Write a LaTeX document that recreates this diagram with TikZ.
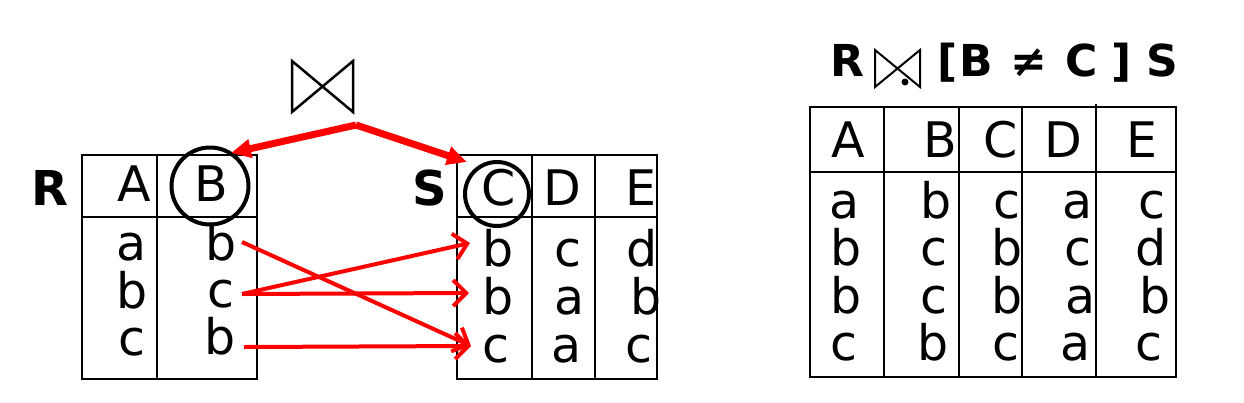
\documentclass[tikz,border=0pt]{standalone}
\usepackage{fontspec}
\setmainfont{DejaVu Sans}
\usetikzlibrary{arrows.meta}
\begin{document}
\begin{tikzpicture}[x=1pt,y=-1pt,
  grid/.style={line width=2.4pt},
  cell/.style={anchor=base,inner sep=0pt,font=\fontsize{49}{56}\selectfont},
  rel/.style={anchor=base,inner sep=0pt,font=\fontsize{48}{56}\selectfont\bfseries},
  ttl/.style={anchor=base,inner sep=0pt,font=\fontsize{44}{50}\selectfont\bfseries},
  ring/.style={draw,line width=4pt},
  bowtie/.style={line width=2.5pt,line join=miter},
  bigarrow/.style={red,line width=7pt,-{Triangle[length=20pt,width=18pt]}},
  match/.style={red,line width=4pt,-{Straight Barb[length=13pt,width=26pt]}}]
\useasboundingbox (0,0) rectangle (1244,402);

% ---------- R table ----------
\node[rel] (Rname) at (50,205) {R};
\draw[grid] (82,155) rectangle (257,379);
\draw[grid] (82,217) -- (257,217);
\draw[grid] (157,155) -- (157,379);
\node[cell] (RhA) at (134,201) {A};
\node[cell] (RhB) at (211,201) {B};
\draw[ring] (210,186) circle[radius=38.5pt];
\node[cell] (Ra1) at (132,260) {a};
\node[cell] (Ra2) at (132,308) {b};
\node[cell] (Ra3) at (132,355) {c};
\node[cell] (Rb1) at (221,260) {b};
\node[cell] (Rb2) at (221,307) {c};
\node[cell] (Rb3) at (220,354) {b};

% ---------- S table ----------
\node[rel] (Sname) at (430,205) {S};
\draw[grid] (457,155) rectangle (657,379);
\draw[grid] (457,217) -- (657,217);
\draw[grid] (532,155) -- (532,379);
\draw[grid] (595,155) -- (595,379);
\node[cell] (ShC) at (499,205) {C};
\node[cell] (ShD) at (562,205) {D};
\node[cell] (ShE) at (641,205) {E};
\draw[ring] (497,194) circle[radius=32pt];
\node[cell] (Sc1) at (498,266) {b};
\node[cell] (Sc2) at (498,314) {b};
\node[cell] (Sc3) at (496,362) {c};
\node[cell] (Sd1) at (568,266) {c};
\node[cell] (Sd2) at (570,314) {a};
\node[cell] (Sd3) at (567,362) {a};
\node[cell] (Se1) at (642,266) {d};
\node[cell] (Se2) at (646,314) {b};
\node[cell] (Se3) at (639,362) {c};

% ---------- join symbol and arrows ----------
\draw[bowtie] (292,61) -- (292,112) -- (353,61) -- (353,112) -- cycle;
\coordinate (apex) at (356,125);
\coordinate (toB) at (231,153);
\coordinate (toC) at (467,162);
\draw[bigarrow] (apex) -- (toB);
\draw[bigarrow] (apex) -- (toC);

\coordinate (r1) at (242,242);
\coordinate (r2) at (242,294);
\coordinate (r3) at (244,347);
\coordinate (s1) at (470,243);
\coordinate (s2) at (469,293);
\coordinate (s3) at (471,346);
\draw[match] (r1) -- (s3);
\draw[match] (r2) -- (s1);
\draw[match] (r2) -- (s2);
\draw[match] (r3) -- (s3);

% ---------- title ----------
\node[ttl] (tR) at (847,76) {R};
\draw[line width=2pt,line join=miter] (875,50) -- (875,87) -- (920,50) -- (920,87) -- cycle;
\fill (905,82) circle[radius=3.5pt];
\node[ttl] (tlb) at (948,76) {[};
\node[ttl] (tB) at (976,76) {B};
\node[ttl] (tne) at (1029,76) {≠};
\node[ttl] (tC) at (1082,76) {C};
\node[ttl] (trb) at (1122,76) {]};
\node[ttl] (tS) at (1162,76) {S};

% ---------- result table ----------
\draw[grid] (810,107) rectangle (1176,377);
\draw[grid] (810,172) -- (1176,172);
\draw[grid] (884,107) -- (884,377);
\draw[grid] (959,107) -- (959,377);
\draw[grid] (1022,107) -- (1022,377);
\draw[grid] (1096,104) -- (1096,377);
\node[cell] (QhA) at (848,157) {A};
\node[cell] (QhB) at (940,157) {B};
\node[cell] (QhC) at (1001,157) {C};
\node[cell] (QhD) at (1063,157) {D};
\node[cell] (QhE) at (1142,157) {E};
% row 1
\node[cell] (Q11) at (845,218) {a};
\node[cell] (Q12) at (936,218) {b};
\node[cell] (Q13) at (1007,218) {c};
\node[cell] (Q14) at (1077,218) {a};
\node[cell] (Q15) at (1152,218) {c};
% row 2
\node[cell] (Q21) at (846,265) {b};
\node[cell] (Q22) at (934,265) {c};
\node[cell] (Q23) at (1007,265) {b};
\node[cell] (Q24) at (1078,265) {c};
\node[cell] (Q25) at (1151,265) {d};
% row 3
\node[cell] (Q31) at (846,313) {b};
\node[cell] (Q32) at (934,313) {c};
\node[cell] (Q33) at (1007,313) {b};
\node[cell] (Q34) at (1080,313) {a};
\node[cell] (Q35) at (1155,313) {b};
% row 4
\node[cell] (Q41) at (844,360) {c};
\node[cell] (Q42) at (933,360) {b};
\node[cell] (Q43) at (1006,360) {c};
\node[cell] (Q44) at (1075,360) {a};
\node[cell] (Q45) at (1149,360) {c};
\end{tikzpicture}
\end{document}
